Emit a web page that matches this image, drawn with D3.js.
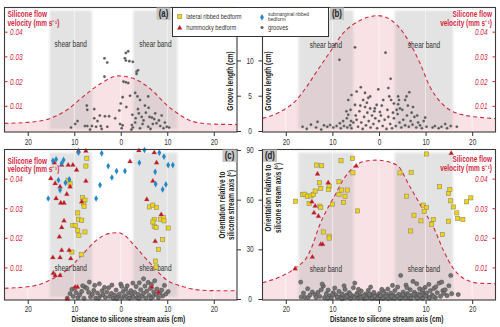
<!DOCTYPE html>
<html>
<head>
<meta charset="utf-8">
<script src="https://cdn.jsdelivr.net/npm/d3@7"></script>
<style>
  body { margin: 0; background: #fff; }
  text { font-family: "Liberation Sans", Arial, sans-serif; }
</style>
</head>
<body>
<script>
// ---- tick values
const xTicks = [-20, -10, 0, 10, 20];
const lenTicks = [0, 5, 10];
const degTicks = [0, 30, 60, 90];
const velTicks = [0.01, 0.02, 0.03, 0.04];

// ---- shear bands (distance, cm)
const bandsAC = [[-15.3, -6.2], [2.7, 12.2]];
const bandsBD = [[-17.3, -5.5], [3.4, 15.9]];

// ---- silicone flow velocity profiles [distance, mm/s]
const velA = [[-25,0.0031],[-20,0.0035],[-15.2,0.0051],[-11.6,0.0085],[-8.1,0.0139],[-4.5,0.019],[-0.5,0.0223],[2,0.0217],[4.15,0.020],[7,0.016],[9.9,0.0105],[12.75,0.0065],[15.6,0.0038],[19.9,0.0028],[25,0.0026]];
const velB = [[-25,0.0051],[-21.2,0.0078],[-17.7,0.0126],[-15.5,0.018],[-13.4,0.024],[-10.5,0.032],[-7.7,0.0396],[-4.1,0.0447],[-0.15,0.0467],[3.8,0.043],[6.65,0.0355],[8.8,0.0274],[10.9,0.018],[13.1,0.0119],[15.2,0.0085],[18.1,0.0065],[21.7,0.0055],[25,0.005]];
const velC = [[-25,0.0031],[-18.8,0.0039],[-15.2,0.0059],[-11.6,0.0093],[-8,0.0149],[-5.2,0.0194],[-2.3,0.0217],[-0.5,0.0219],[1,0.0208],[2.7,0.018],[6.3,0.0116],[9.9,0.0059],[13.5,0.0036],[17.1,0.0025],[20.6,0.0023],[25,0.0023]];
const velD = [[-25,0.005],[-21.2,0.007],[-18,0.0099],[-15.2,0.0144],[-14.1,0.0183],[-13,0.0234],[-11.6,0.0284],[-9.8,0.0335],[-7.7,0.0397],[-3.4,0.0459],[-0.5,0.0464],[3.8,0.0448],[6.65,0.0374],[9.5,0.0296],[11.65,0.0239],[13.8,0.016],[15.9,0.0099],[18.1,0.0065],[21.7,0.0048],[25,0.0047]];

// ---- groove length [distance, cm]
const groovesA = [[-3.5,10.3],[-2.9,9.7],[1.1,11.05],[1.6,11.3],[0.9,10.3],[1.1,10.0],[1.85,9.9],[2.6,9.8],[3.4,8.4],[3.7,8.6],[3.4,8.1],[-3.5,7.7],[0.6,7.0],[1.1,6.9],[1.6,6.8],[3.1,5.4],[2.0,5.0],[3.6,4.9],[0.4,4.8],[0,3.9],[-7.3,3.6],[-7.2,3.0],[-5.7,3.1],[-4.5,2.2],[-3.4,2.1],[-2.5,2.1],[-1.2,1.8],[-5.7,1.8],[-5.0,1.4],[-9.3,1.4],[-9.8,1.0],[-10.7,0.5],[-7.7,0.7],[-7.2,0.7],[-6.2,0.7],[-5.3,0.6],[-4.3,0.7],[-6.6,0.2],[-4.1,0.3],[-2.9,0.6],[-0.15,1.0],[0.4,0.8],[0.2,0.4],[2.4,0.85],[2.6,0.5],[3.1,1.2],[3.7,3.1],[3.9,2.5],[4.5,2.0],[4.9,1.5],[4.7,1.0],[5.4,2.6],[6.2,2.0],[6.7,1.9],[7.4,2.5],[7.2,1.7],[7.7,1.1],[6.9,1.0],[5.9,0.6],[8.5,0.7],[9.2,0.4],[9.9,0.6],[4.15,0.4],[10.4,0.5],[5.9,4.9],[4.15,4.4],[2.3,0.2],[6.4,0.3],[-0.3,2.9],[1.2,3.4],[2.5,2.3],[5.2,3.6],[6.0,3.3],[8.2,1.5],[8.8,2.2],[3.2,1.8],[9.5,1.2]];
const groovesB = [[-16.4,0.6],[-15.5,0.3],[-14.6,0.9],[-13.2,1.3],[-13.5,0.5],[-12.4,0.2],[-11.8,0.8],[-11.1,0.6],[-10.5,0.85],[-9.8,0.5],[-9.1,0.7],[-8.4,1.1],[-7.7,1.4],[-6.9,1.8],[-6.6,2.3],[-6.1,3.0],[-8.2,0.4],[-7.5,0.7],[-6.8,0.5],[-6.2,0.8],[-5.9,0.4],[-4.8,1.6],[-8.5,10.1],[-5.15,11.85],[-5.9,5.1],[-6.6,4.4],[-5.15,3.7],[-3.4,4.4],[-3.0,3.4],[-2.3,4.7],[-1.9,3.2],[-0.9,3.2],[-0.5,3.7],[0.2,2.7],[-3.9,6.2],[-4.8,5.6],[-1.9,4.9],[-0.15,5.9],[2.0,6.1],[2.5,7.4],[1.4,11.1],[2.2,4.9],[2.6,4.4],[3.2,3.9],[4.1,4.9],[4.3,4.4],[4.1,3.8],[4.5,3.2],[3.8,3.0],[5.6,4.4],[6.5,5.5],[5.9,4.9],[7.3,3.4],[9.9,1.9],[10.2,0.6],[11.5,0.5],[12.0,0.7],[12.8,0.4],[13.4,0.6],[14.2,1.0],[14.6,0.4],[15.4,0.7],[16.7,0.6],[-5.5,1.2],[-5.0,2.2],[-4.5,0.6],[-4.2,2.8],[-3.8,1.2],[-3.5,0.3],[-3.2,2.0],[-2.8,0.8],[-2.5,2.6],[-2.2,1.4],[-1.8,0.5],[-1.5,2.2],[-1.2,1.0],[-0.8,1.8],[-0.4,0.4],[0.0,1.4],[0.4,2.2],[0.8,0.7],[1.2,1.6],[1.6,0.3],[2.0,2.0],[2.4,1.0],[2.8,0.4],[3.2,1.8],[3.6,0.7],[4.0,2.4],[4.4,1.2],[4.8,0.5],[5.2,1.6],[5.6,0.8],[6.0,2.2],[6.4,0.6],[6.8,1.4],[7.2,0.9],[7.6,2.0],[8.0,0.5],[8.4,1.2],[8.8,0.8],[9.2,0.4],[9.6,1.4],[-2.6,4.0],[-1.0,2.8],[0.6,3.6],[1.8,3.0],[3.0,2.6],[5.0,3.0],[6.2,3.6],[7.0,2.6],[8.2,2.2],[-4.0,3.6],[-6.0,1.4],[-7.0,2.8],[-3.0,5.4],[0.9,4.4]];

// ---- orientation relative to stream axis [distance, degrees]
const groovesC = [[-11.5,0.5],[-10.9,3.2],[-10.5,5.8],[-10.2,1.5],[-9.6,3.8],[-9.2,0.8],[-8.8,2.5],[-8.4,4.6],[-7.7,7.2],[-7.3,6.4],[-6.75,10.2],[-6.9,4.0],[-6.5,1.2],[-6.1,2.8],[-5.8,5.2],[-5.4,0.6],[-5.0,3.6],[-4.6,9.2],[-4.4,1.8],[-4.0,5.0],[-3.8,2.6],[-3.3,0.9],[-3.0,4.2],[-2.6,6.8],[-2.4,1.6],[-2.0,3.4],[-1.6,0.5],[-1.3,2.4],[-1.0,5.4],[-0.6,1.2],[-0.3,3.0],[0.0,9.0],[0.2,7.6],[0.3,0.8],[0.5,4.6],[0.8,2.0],[1.1,6.0],[1.3,1.0],[1.6,3.6],[1.9,0.5],[2.2,5.0],[2.4,2.4],[2.7,1.2],[3.0,4.0],[3.3,7.5],[3.5,0.8],[3.8,2.8],[4.0,9.8],[4.3,5.6],[4.6,1.6],[4.9,12.2],[4.9,3.4],[5.2,7.8],[5.4,0.6],[5.6,4.8],[5.9,10.0],[6.1,2.2],[6.4,6.4],[6.6,8.8],[6.9,1.4],[7.1,4.2],[7.3,11.0],[7.6,2.8],[7.8,6.0],[8.1,0.8],[8.4,3.6],[8.8,5.4],[9.0,1.8],[9.4,8.2],[9.7,3.0],[10.2,4.5],[-7.9,0.4],[-8.2,8.0],[-3.5,7.0],[-1.9,8.4],[1.4,8.0],[2.6,9.6],[-5.6,8.2],[-9.9,6.5],[-4.8,0.3],[-0.9,0.2],[3.9,0.3],[6.5,0.4]];
const lateralC = [[-7.3,85],[-7.5,80.3],[-11.3,71.8],[-10.9,69.8],[-8.2,61.3],[-7.7,59.7],[-8.0,57.7],[-7.9,56],[-9.25,52],[-9.1,48.2],[-8.4,47.6],[-10.3,44.5],[-9.8,44.5],[-9.25,41.5],[-7.7,40.5],[-9.0,38.5],[-10.5,28.4],[-8.5,26.8],[6.15,55.6],[6.9,56.7],[7.7,55.3],[7.2,48],[6.9,46.5],[7.2,43.9],[7.6,43.2],[8.6,48.2],[9.2,49.2],[9.3,47.2],[10.2,42.9],[9.0,35.9],[8.1,30],[7.45,22.9],[7.6,19.3]];
const hummockyC = [[-9.1,89.4],[-7.5,89.4],[-15.05,72.8],[-14.3,82.3],[-12.7,80.9],[-11.3,80.9],[-10.3,80.9],[-9.5,77.9],[-14.1,69.8],[-13.05,67.8],[-7.5,71.2],[-10.9,67.8],[-11.6,63.3],[-12.9,58],[-12.2,58],[-13.9,60.7],[-8.4,58.7],[-12.2,47.2],[-12.7,43.2],[-13.2,37.5],[-12.7,29.4],[-14.6,25],[-13.05,25],[-10.75,24.4],[-11.1,29.4],[-14.5,15.6],[-14.1,14.2],[-13.05,14.2],[-9.8,7.2],[-9.3,7.2],[-11.5,0],[2.0,83],[3.9,89.6],[7.2,88.4],[6.9,71.2],[5.6,60.1],[8.7,51],[7.4,34.8],[6.7,7.2],[8.1,4.1],[7.7,82.3]];
const submarginalC = [[-14.6,83.5],[-13.9,84.4],[-12.3,84],[-12.7,82],[-9.1,88.4],[-11.05,72.2],[-13.4,71.8],[-11.9,70.2],[-13.05,65.8],[-15.6,60.7],[-5.3,60.7],[-4.45,68.8],[-2.7,80.3],[-0.9,77.3],[0.9,77.3],[4.0,82.3],[5.1,90],[-4.1,88],[-1.9,73.4],[8.3,88.4],[9.3,86],[7.4,76.8],[7.5,69.4],[9.0,66.2],[9.7,69.2],[10.2,80.9],[11.2,80.9]];

const groovesD = [[-16.8,10.2],[-16.7,1.2],[-15.9,1.0],[-15.3,6.2],[-15.2,0.9],[-14.3,4.2],[-13.7,2.6],[-13.1,4.0],[-12.7,1.5],[-11.95,7.8],[-12.2,9.0],[-11.7,0.8],[-11.3,3.2],[-10.9,5.4],[-10.6,1.8],[-10.2,0.6],[-9.8,3.8],[-9.5,6.6],[-9.2,2.2],[-8.9,0.9],[-8.6,4.6],[-8.2,1.5],[-7.9,3.0],[-7.6,0.5],[-7.3,5.8],[-7.0,2.4],[-6.7,1.0],[-6.4,3.8],[-6.1,0.4],[-5.8,2.0],[-5.5,6.8],[-5.2,9.6],[-5.0,1.2],[-4.7,3.4],[-4.4,0.6],[-4.1,2.2],[-3.8,4.8],[-3.5,1.4],[-3.2,0.3],[-2.9,3.0],[-2.6,1.8],[-2.3,5.2],[-2.0,0.8],[-1.7,2.6],[-1.4,1.2],[-1.1,4.0],[-0.8,0.5],[-0.5,2.2],[-0.2,1.0],[0.1,3.4],[0.4,0.6],[0.7,1.8],[1.0,4.6],[1.3,0.9],[1.6,2.8],[1.9,6.0],[2.2,1.4],[2.5,3.6],[2.8,0.5],[3.1,2.2],[3.4,5.0],[3.7,1.0],[4.0,7.2],[4.3,2.8],[4.65,14.2],[4.9,0.7],[5.2,4.2],[5.5,1.8],[5.8,8.4],[6.1,3.2],[6.4,0.6],[6.7,5.6],[7.0,2.0],[7.3,10.6],[7.6,4.0],[7.9,1.2],[8.1,9.2],[8.4,3.0],[8.7,6.2],[9.0,0.8],[9.3,4.4],[9.6,2.2],[9.9,7.0],[10.2,3.6],[10.5,1.2],[10.7,8.8],[11.0,5.0],[11.4,2.4],[11.8,6.4],[12.1,0.9],[12.5,3.8],[12.9,9.6],[13.45,10.2],[13.2,1.6],[13.7,5.0],[14.2,5.6],[14.6,2.0],[15.0,8.0],[15.4,14.2],[15.6,3.2],[17.0,2.7],[-6.9,1.5],[-6.2,2.8],[-5.3,0.9],[-4.8,2.6],[-3.9,1.0],[-3.3,2.0],[-2.7,0.6],[-2.1,2.8],[-1.5,0.3],[-0.9,1.6],[-0.3,0.3],[0.3,2.0],[0.9,0.3],[1.5,1.6],[2.0,0.2],[2.7,1.6],[3.3,0.4],[3.9,1.8],[4.5,0.3],[5.1,2.6],[5.7,0.5],[6.3,2.4],[6.9,0.3],[7.5,2.8],[8.2,0.4],[8.8,2.2],[9.4,0.3],[10.0,1.8],[10.8,0.5],[11.6,1.4],[-9.0,1.2],[-10.0,2.6],[-11.0,0.4],[-8.0,0.2],[-13.5,1.0],[-14.8,2.4],[-12.4,5.6],[-7.5,8.0],[-4.4,5.8],[-1.8,7.2],[0.6,5.8],[2.9,8.2],[6.0,6.8],[9.4,5.6],[12.2,7.4],[13.9,3.4],[-16.2,3.6]];
const lateralD = [[-17.9,59.1],[-16.4,63.2],[-15.9,63.3],[-15.4,62.1],[-14.6,62.3],[-15.0,57.7],[-14.1,63.2],[-13.7,65.2],[-13.4,80.9],[-12.3,80.5],[-12.8,70.2],[-12.5,66.8],[-12.7,56.1],[-12.5,55.3],[-11.95,40.5],[-10.7,37.9],[-10.7,36.8],[-10.7,68.2],[-10.8,66.2],[-10.0,57.3],[-8.6,70.8],[-8.6,63.2],[-8.0,65.8],[-8.15,83.5],[-7.3,62.1],[-7.65,58.3],[-6.8,65.8],[-5.7,85],[-5.6,76.2],[-4.6,53.2],[4.5,76.2],[6.9,76.5],[10.2,87.6],[5.9,62.1],[13.0,67.8],[14.9,63.8],[15.2,66.2],[15.4,59.3],[15.95,55.6],[16.7,52],[16.9,48.6],[18.0,48],[18.8,58.7],[19.7,61.1],[9.5,56.7],[10.2,55.3],[9.7,53],[7.5,50.6],[9.0,47.2],[6.8,41.1],[11.65,48],[11.3,45.2],[13.6,38.9],[14.9,47]];
const hummockyD = [[-13.2,75.5],[-14.4,58.7],[-13.7,56.1],[-13.95,52],[-13.0,50],[-10.9,70.2],[-12.5,33],[-12.1,33],[-14.3,25.3],[-18.0,18.3],[-4.9,80.3],[15.5,88]];

// ---- legend
const legendItems = ["lateral ribbed bedform", "hummocky bedform", "submarginal ribbed bedform", "grooves"];

const RED = "#d0283f";
const svg = d3.select("body").append("svg").attr("width", 500).attr("height", 327);
const defs = svg.append("defs");
defs.append("filter").attr("id", "soft").attr("x", "-20%").attr("width", "140%").attr("y", "-5%").attr("height", "110%")
  .append("feGaussianBlur").attr("stdDeviation", 1.3);

function marker(g, kind, cx, cy, big) {
  if (kind == "groove") {
    g.append("circle").attr("cx", cx).attr("cy", cy).attr("r", big ? 2.1 : 1.3)
      .attr("fill", big ? "#747474" : "#555").attr("stroke", big ? "#444" : "#999").attr("stroke-width", big ? 0.5 : 0.3);
  } else if (kind == "lateral") {
    g.append("rect").attr("x", cx - 2.1).attr("y", cy - 2.1).attr("width", 4.2).attr("height", 4.2)
      .attr("fill", "#f2d40c").attr("stroke", "#8e8c70").attr("stroke-width", 0.6);
  } else if (kind == "hummocky") {
    g.append("path").attr("d", d3.symbol(d3.symbolTriangle, 11)()).attr("transform", `translate(${cx},${cy})`)
      .attr("fill", "#c5141f").attr("stroke", "#b08080").attr("stroke-width", 0.3);
  } else {
    g.append("path").attr("d", d3.symbol(d3.symbolDiamond, 13)()).attr("transform", `translate(${cx},${cy})`)
      .attr("fill", "#2489c6");
  }
}

function drawPanel(p) {
  const x = d3.scaleLinear().domain([-25, 25]).range([p.l, p.r]);
  const y = d3.scaleLinear().domain(p.yDom).range(p.yR);
  const v = d3.scaleLinear().domain([0, 0.05]).range(p.vR);
  const g = svg.append("g");

  defs.append("clipPath").attr("id", "clip" + p.id).append("rect")
    .attr("x", p.l).attr("y", p.t).attr("width", p.r - p.l).attr("height", p.b - p.t);
  const c = g.append("g").attr("clip-path", `url(#clip${p.id})`);

  // velocity profile area
  c.append("path").datum(p.vel)
    .attr("d", d3.area().curve(d3.curveMonotoneX).x(d => x(d[0])).y0(p.b).y1(d => v(d[1])))
    .attr("fill", "#f9e2e5");

  // shear bands
  p.bands.forEach(bd => {
    c.append("rect").attr("x", x(bd[0])).attr("width", x(bd[1]) - x(bd[0]))
      .attr("y", p.t + 3).attr("height", p.b - p.t - 6)
      .attr("fill", "#b9b9b9").attr("opacity", 0.4).attr("filter", "url(#soft)");
  });

  // faint grid
  xTicks.forEach(t => {
    c.append("line").attr("x1", x(t)).attr("x2", x(t)).attr("y1", p.t).attr("y2", p.b)
      .attr("stroke", "#fff").attr("stroke-width", 0.8).attr("opacity", 0.7);
  });

  // dashed velocity line
  c.append("path").datum(p.vel)
    .attr("d", d3.line().curve(d3.curveMonotoneX).x(d => x(d[0])).y(d => v(d[1])))
    .attr("fill", "none").attr("stroke", RED).attr("stroke-width", 1.1).attr("stroke-dasharray", "4,3");

  // shear band labels
  p.bands.forEach(bd => {
    g.append("text").attr("x", x((bd[0] + bd[1]) / 2)).attr("y", p.bandY)
      .attr("text-anchor", "middle").attr("font-size", 8.3).attr("fill", "#333").text("shear band");
  });

  // points
  p.layers.forEach(L => L.data.forEach(d => marker(g, L.kind, x(d[0]), y(d[1]), p.big)));

  // frame
  g.append("rect").attr("x", p.l).attr("y", p.t).attr("width", p.r - p.l).attr("height", p.b - p.t)
    .attr("fill", "none").attr("stroke", "#3a3a3a").attr("stroke-width", 1.1);

  // x axis
  const ax = g.append("g").attr("transform", `translate(0,${p.b})`)
    .call(d3.axisBottom(x).tickValues(xTicks).tickSize(4).tickPadding(p.big ? 2 : 3).tickFormat(d => Math.abs(d)));
  ax.select(".domain").remove();
  ax.attr("font-family", null).attr("font-size", null);
  ax.selectAll("line").attr("stroke", "#333");
  ax.selectAll("text").attr("font-size", 8.3).attr("fill", "#333");

  // velocity axis (inside the frame)
  const left = p.vSide == "left";
  velTicks.forEach(t => {
    const yy = v(t);
    g.append("line").attr("x1", left ? p.l : p.r - 3).attr("x2", left ? p.l + 3 : p.r)
      .attr("y1", yy).attr("y2", yy).attr("stroke", RED).attr("stroke-width", 1);
    g.append("text").attr("x", left ? p.l + 5.5 : p.r - 8).attr("y", yy + 3)
      .attr("text-anchor", left ? "start" : "end").attr("font-size", 8.3)
      .attr("font-style", "italic").attr("fill", RED).text(t.toFixed(2));
  });
  const tx = left ? p.l + 3 : p.r - 3.5;
  const anchor = left ? "start" : "end";
  g.append("text").attr("x", tx).attr("y", p.vTitleY).attr("text-anchor", anchor)
    .attr("font-size", 8.3).attr("font-weight", "bold").attr("fill", RED).text("Silicone flow");
  g.append("text").attr("x", tx).attr("y", p.vTitleY + 8.6).attr("text-anchor", anchor)
    .attr("font-size", 8.3).attr("font-weight", "bold").attr("fill", RED).text("velocity (mm s\u207B\u00B9)");

  // panel tag
  g.append("rect").attr("x", p.tag[0]).attr("y", p.tag[1]).attr("width", 14).attr("height", 12.5).attr("fill", "#c6c6c6");
  g.append("text").attr("x", p.tag[0] + 7).attr("y", p.tag[1] + 10).attr("text-anchor", "middle")
    .attr("font-size", 10).attr("font-weight", "bold").attr("fill", "#222").text(`(${p.id})`);

  return { x, y };
}

const A = drawPanel({ id: "a", l: 4.5, r: 237, t: 7.5, b: 132, yDom: [0, 17.5], yR: [131, 7.5], vR: [131, 7.5],
  vel: velA, bands: bandsAC, bandY: 47, vSide: "left", vTitleY: 17, tag: [156.5, 7.5], big: false,
  layers: [{ kind: "groove", data: groovesA }] });
const B = drawPanel({ id: "b", l: 262.5, r: 495.5, t: 7.5, b: 132, yDom: [0, 17.5], yR: [131, 7.5], vR: [131, 7.5],
  vel: velB, bands: bandsBD, bandY: 48, vSide: "right", vTitleY: 17, tag: [330, 7.5], big: false,
  layers: [{ kind: "groove", data: groovesB }] });
const C = drawPanel({ id: "c", l: 4.5, r: 237, t: 149.5, b: 300, yDom: [0, 90], yR: [299, 150], vR: [297.5, 149.5],
  vel: velC, bands: bandsAC, bandY: 271, vSide: "left", vTitleY: 163.7, tag: [222.5, 149.5], big: true,
  layers: [{ kind: "groove", data: groovesC }, { kind: "lateral", data: lateralC },
           { kind: "hummocky", data: hummockyC }, { kind: "submarginal", data: submarginalC }] });
const D = drawPanel({ id: "d", l: 262.5, r: 495.5, t: 149.5, b: 300, yDom: [0, 90], yR: [299, 150], vR: [297.5, 149.5],
  vel: velD, bands: bandsBD, bandY: 272, vSide: "right", vTitleY: 162.3, tag: [263, 149.5], big: true,
  layers: [{ kind: "groove", data: groovesD }, { kind: "lateral", data: lateralD },
           { kind: "hummocky", data: hummockyD }] });

// shared y axes in the gutter
function gutterAxis(scale, ticks, xr, xl) {
  const ar = svg.append("g").attr("transform", `translate(${xr},0)`)
    .call(d3.axisRight(scale).tickValues(ticks).tickSize(4).tickFormat(d3.format("d")));
  ar.select(".domain").remove();
  ar.attr("font-family", null).attr("font-size", null);
  ar.selectAll("line").attr("stroke", "#333");
  ar.selectAll("text").attr("x", 250 - xr).attr("text-anchor", "middle").attr("font-size", 8.3).attr("fill", "#333");
  const al = svg.append("g").attr("transform", `translate(${xl},0)`)
    .call(d3.axisLeft(scale).tickValues(ticks).tickSize(4).tickFormat(""));
  al.select(".domain").remove();
  al.selectAll("line").attr("stroke", "#333");
}
gutterAxis(A.y, lenTicks, 237, 262.5);
gutterAxis(C.y, degTicks, 237, 262.5);

// axis titles
function vtext(xb, yc, lines) {
  lines.forEach((s, i) => {
    svg.append("text").attr("transform", `translate(${xb + i * 9.3},${yc}) rotate(-90)`)
      .attr("text-anchor", "middle").attr("font-size", 8.3).attr("font-weight", "bold").attr("fill", "#222").text(s);
  });
}
vtext(233, 81, ["Groove length (cm)"]);
vtext(271.3, 81, ["Groove length (cm)"]);
vtext(224.7, 205, ["Orientation relative to", "silicone stream axis (\u00B0)"]);
vtext(271.3, 198, ["Orientation relative to", "silicone stream axis (\u00B0)"]);

[128.3, 386.7].forEach(cx => {
  svg.append("text").attr("x", cx).attr("y", 322.4).attr("text-anchor", "middle")
    .attr("font-size", 8.3).attr("font-weight", "bold").attr("fill", "#222").text("Distance to silicone stream axis (cm)");
});

// legend
const lg = svg.append("g");
lg.append("rect").attr("x", 172.5).attr("y", 7.5).attr("width", 156).attr("height", 29)
  .attr("fill", "#fff").attr("stroke", "#333").attr("stroke-width", 1);
marker(lg, "lateral", 179.7, 16.5, true);
marker(lg, "hummocky", 179.7, 28, true);
marker(lg, "submarginal", 262, 17.3, true);
lg.append("circle").attr("cx", 262).attr("cy", 27.5).attr("r", 1.6).attr("fill", "#666");
lg.append("text").attr("x", 186.3).attr("y", 18.6).attr("font-size", 7.3).attr("fill", "#333").text(legendItems[0]);
lg.append("text").attr("x", 186.3).attr("y", 29.8).attr("font-size", 7.3).attr("fill", "#333").text(legendItems[1]);
lg.append("text").attr("x", 268).attr("y", 16).attr("font-size", 6.2).attr("fill", "#333").text("submarginal ribbed");
lg.append("text").attr("x", 268).attr("y", 21.5).attr("font-size", 6.2).attr("fill", "#333").text("bedform");
lg.append("text").attr("x", 268).attr("y", 29.8).attr("font-size", 7.3).attr("fill", "#333").text(legendItems[3]);

// narrow the text horizontally about its anchor point (the original uses a condensed face)
svg.selectAll("text").each(function () {
  const x0 = +(this.getAttribute("x") || 0);
  const t0 = this.getAttribute("transform") || "";
  this.setAttribute("transform", `${t0} translate(${x0},0) scale(0.78,1) translate(${-x0},0)`.trim());
});
</script>
</body>
</html>
